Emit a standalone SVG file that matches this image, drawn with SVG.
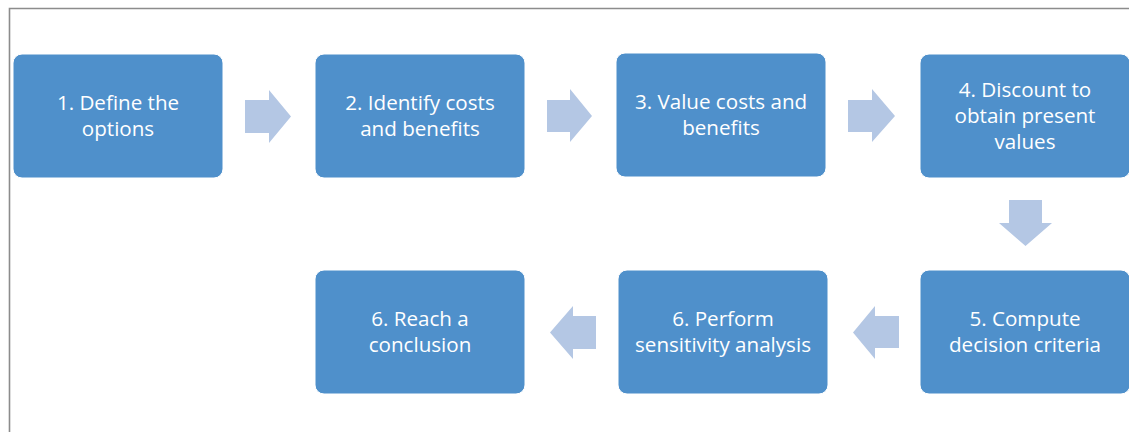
<svg xmlns="http://www.w3.org/2000/svg" width="1129" height="432" viewBox="0 0 1129 432">
  <style>
    .box { fill: #4F90CB; stroke: #FFFFFF; stroke-width: 1; }
    .lbl { fill: #FFFFFF; font-family: "Open Sans", "Liberation Sans", Arial, sans-serif; font-size: 20.6px; text-anchor: middle; }
    .arrow { fill: #B4C7E4; }
    .frame { fill: none; stroke: #8C8C8C; stroke-width: 1.6; }
  </style>
  <rect width="1129" height="432" fill="#FFFFFF"/>
  <!-- outer frame: left and top rules only -->
  <path class="frame" d="M9.5,432 V8.5 H1129"/>

  <g id="connectors">
    <polygon class="arrow" points="245,100 269,100 269,90 291,116.5 269,143 269,133 245,133"/>
    <polygon class="arrow" points="547,100 570,100 570,89 592,116 570,142 570,132 547,132"/>
    <polygon class="arrow" points="848,100 872,100 872,89 895,116 872,142 872,132 848,132"/>
    <polygon class="arrow" points="1009,200 1042,200 1042,223 1052,223 1025.5,246 999,223 1009,223"/>
    <polygon class="arrow" points="899,316 875,316 875,306 853,332.5 875,359 875,348 899,348"/>
    <polygon class="arrow" points="596,316 573,316 573,306 550,332.5 573,359 573,349 596,349"/>
  </g>

  <g id="step1">
    <rect class="box" x="13" y="54" width="210" height="124" rx="9"/>
    <text class="lbl"><tspan x="118" y="110">1. Define the</tspan><tspan x="118" y="136">options</tspan></text>
  </g>
  <g id="step2">
    <rect class="box" x="315" y="54" width="210" height="124" rx="9"/>
    <text class="lbl"><tspan x="420" y="110">2. Identify costs</tspan><tspan x="420" y="136">and benefits</tspan></text>
  </g>
  <g id="step3">
    <rect class="box" x="616" y="53" width="210" height="124" rx="9"/>
    <text class="lbl"><tspan x="721" y="109">3. Value costs and</tspan><tspan x="721" y="135">benefits</tspan></text>
  </g>
  <g id="step4">
    <rect class="box" x="920" y="54" width="210" height="124" rx="9"/>
    <text class="lbl"><tspan x="1025" y="97">4. Discount to</tspan><tspan x="1025" y="123">obtain present</tspan><tspan x="1025" y="149">values</tspan></text>
  </g>
  <g id="step5">
    <rect class="box" x="920" y="270" width="210" height="124" rx="9"/>
    <text class="lbl"><tspan x="1025" y="326">5. Compute</tspan><tspan x="1025" y="352">decision criteria</tspan></text>
  </g>
  <g id="step6-sensitivity">
    <rect class="box" x="618" y="270" width="210" height="124" rx="9"/>
    <text class="lbl"><tspan x="723" y="326">6. Perform</tspan><tspan x="723" y="352">sensitivity analysis</tspan></text>
  </g>
  <g id="step6-conclusion">
    <rect class="box" x="315" y="270" width="210" height="124" rx="9"/>
    <text class="lbl"><tspan x="420" y="326">6. Reach a</tspan><tspan x="420" y="352">conclusion</tspan></text>
  </g>
</svg>
